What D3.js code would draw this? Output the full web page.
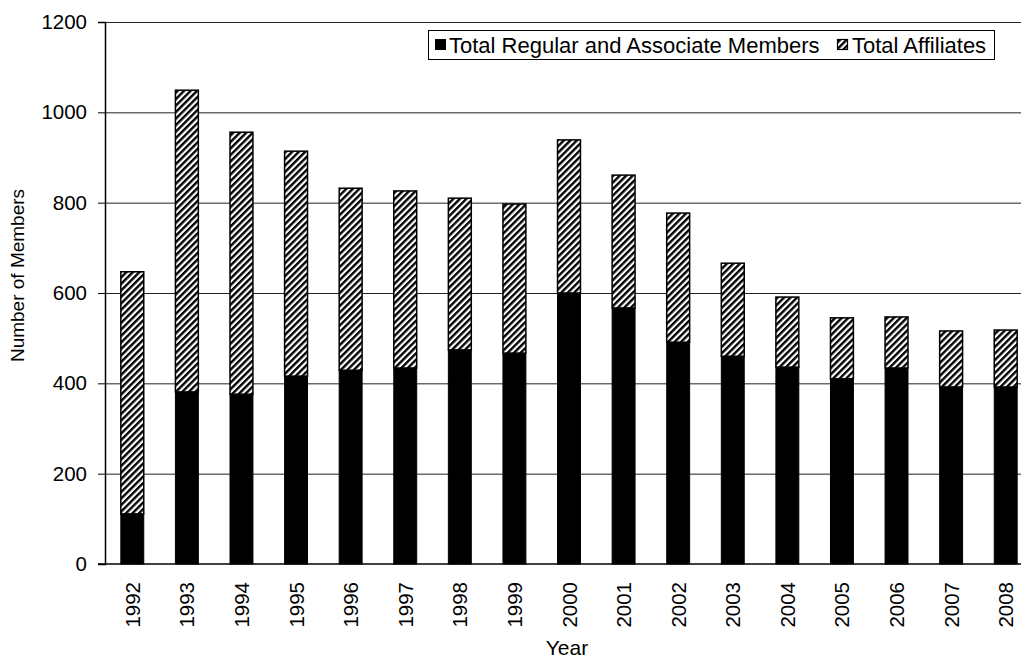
<!DOCTYPE html>
<html>
<head>
<meta charset="utf-8">
<script src="https://cdn.jsdelivr.net/npm/d3@7"></script>
<style>
  body { margin: 0; background: #fff; }
  text { font-family: "Liberation Sans", Arial, sans-serif; fill: #000; }
</style>
</head>
<body>
<div id="chart"></div>
<script>
// data
var years = ["1992","1993","1994","1995","1996","1997","1998","1999","2000","2001","2002","2003","2004","2005","2006","2007","2008"];
var regular = [111, 381, 376, 416, 429, 434, 474, 467, 600, 567, 491, 460, 436, 410, 434, 392, 392];
var affiliates = [536, 668, 580, 498, 403, 392, 336, 330, 339, 294, 286, 206, 155, 135, 113, 124, 126];
var yTicks = [0, 200, 400, 600, 800, 1000, 1200];

var W = 1021, H = 658;
var plotLeft = 105, plotTop = 22, plotBottom = 564;

var svg = d3.select("#chart").append("svg")
    .attr("width", W)
    .attr("height", H);

// hatch pattern for affiliates
var defs = svg.append("defs");
defs.append("pattern")
    .attr("id", "hatch")
    .attr("patternUnits", "userSpaceOnUse")
    .attr("width", 4.6)
    .attr("height", 4.6)
    .attr("patternTransform", "rotate(45)")
  .call(function(p) {
    p.append("rect").attr("width", 4.6).attr("height", 4.6).attr("fill", "#fff");
    p.append("rect").attr("width", 2.4).attr("height", 4.6).attr("fill", "#000");
  });

var x = d3.scaleBand()
    .domain(years)
    .range([plotLeft, 1033])
    .paddingInner(0.58)
    .paddingOuter(0.29);

var y = d3.scaleLinear()
    .domain([0, 1200])
    .range([plotBottom, plotTop]);

// gridlines
svg.append("g")
    .selectAll("line")
    .data(yTicks.slice(1))
    .enter().append("line")
    .attr("x1", plotLeft)
    .attr("x2", W)
    .attr("y1", function(d) { return y(d) + 0.5; })
    .attr("y2", function(d) { return y(d) + 0.5; })
    .attr("stroke", "#222")
    .attr("stroke-width", 1);

var stack = years.map(function(yr, i) {
  return { year: yr, reg: regular[i], aff: affiliates[i] };
});

// regular members (solid black)
svg.append("g")
    .selectAll("rect")
    .data(stack)
    .enter().append("rect")
    .attr("x", function(d) { return x(d.year); })
    .attr("width", x.bandwidth())
    .attr("y", function(d) { return y(d.reg); })
    .attr("height", function(d) { return y(0) - y(d.reg); })
    .attr("fill", "#000")
    .attr("stroke", "#000")
    .attr("stroke-width", 1);

// affiliates (hatched)
svg.append("g")
    .selectAll("rect")
    .data(stack)
    .enter().append("rect")
    .attr("x", function(d) { return x(d.year); })
    .attr("width", x.bandwidth())
    .attr("y", function(d) { return y(d.reg + d.aff); })
    .attr("height", function(d) { return y(d.reg) - y(d.reg + d.aff); })
    .attr("fill", "url(#hatch)")
    .attr("stroke", "#000")
    .attr("stroke-width", 1.5);

// y axis
var yAxis = svg.append("g")
    .attr("transform", "translate(" + plotLeft + ",0)")
    .call(d3.axisLeft(y).tickValues(yTicks).tickFormat(d3.format("d")).tickSize(7).tickPadding(11));
yAxis.select(".domain").attr("stroke", "#000").attr("stroke-width", 1.5);
yAxis.selectAll("text").style("font-size", "20.5px").style("font-family", "Liberation Sans, Arial, sans-serif");

// x axis
var xAxis = svg.append("g")
    .attr("transform", "translate(0," + plotBottom + ")")
    .call(d3.axisBottom(x).tickSize(0).tickPadding(0));
xAxis.select(".domain").remove();
svg.append("line")
    .attr("x1", plotLeft - 7).attr("x2", W)
    .attr("y1", plotBottom).attr("y2", plotBottom)
    .attr("stroke", "#000").attr("stroke-width", 1.5);
xAxis.selectAll("text")
    .style("font-size", "20.5px")
    .style("font-family", "Liberation Sans, Arial, sans-serif")
    .attr("text-anchor", "end")
    .attr("dy", null)
    .attr("y", 0)
    .attr("transform", "translate(7.5,18) rotate(-90)");

// axis titles
svg.append("text")
    .attr("transform", "translate(24," + 275.5 + ") rotate(-90)")
    .attr("text-anchor", "middle")
    .style("font-size", "19px")
    .text("Number of Members");

svg.append("text")
    .attr("x", 567)
    .attr("y", 655)
    .attr("text-anchor", "middle")
    .style("font-size", "21px")
    .text("Year");

// legend
var legend = svg.append("g");
legend.append("rect")
    .attr("x", 428.5).attr("y", 30.5)
    .attr("width", 566).attr("height", 29)
    .attr("fill", "#fff")
    .attr("stroke", "#000").attr("stroke-width", 1);
legend.append("rect")
    .attr("x", 435).attr("y", 39).attr("width", 11).attr("height", 11)
    .attr("fill", "#000");
legend.append("text")
    .attr("x", 449).attr("y", 52.5)
    .style("font-size", "22px")
    .text("Total Regular and Associate Members");
legend.append("rect")
    .attr("x", 837.5).attr("y", 39.5).attr("width", 10).attr("height", 10)
    .attr("fill", "url(#hatch)")
    .attr("stroke", "#000").attr("stroke-width", 1.2);
legend.append("text")
    .attr("x", 852).attr("y", 52.5)
    .style("font-size", "22px")
    .text("Total Affiliates");
</script>
</body>
</html>
